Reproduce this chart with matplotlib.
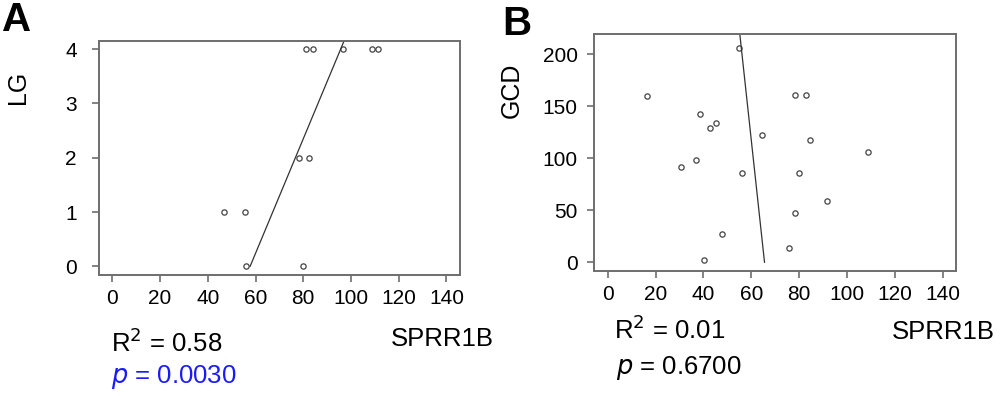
import matplotlib.pyplot as plt
import numpy as np

plt.rcParams['font.family'] = ['Liberation Sans', 'DejaVu Sans']

# Panel A: SPRR1B vs LG
sprr_a = [46.8, 55.6, 56.0, 79.8, 78.2, 82.6, 81.3, 84.2, 96.8, 109.0, 111.3]
lg = [1, 1, 0, 0, 2, 2, 4, 4, 4, 4, 4]

# Panel B: SPRR1B vs GCD
sprr_b = [54.7, 16.4, 38.5, 42.7, 45.2, 64.3, 78.2, 82.7, 84.5, 108.8,
          36.9, 30.5, 56.2, 80.0, 91.6, 78.2, 47.9, 75.9, 40.2]
gcd = [205.8, 159.9, 142.6, 129.1, 133.9, 122.7, 161.2, 161.2, 117.9, 106.1,
       98.4, 91.3, 86.2, 86.2, 58.6, 47.7, 26.9, 13.5, 2.5]

x_ticks = [0, 20, 40, 60, 80, 100, 120, 140]
lg_ticks = [0, 1, 2, 3, 4]
gcd_ticks = [0, 50, 100, 150, 200]

stats_a = ("0.58", "0.0030")
stats_b = ("0.01", "0.6700")

W, H = 1000, 396
fig = plt.figure(figsize=(10, 3.96), dpi=100)

spine_col = '#6e6e6e'
pt_col = '#444444'


def fx(px):
    return px / W


def fy(py):
    return 1 - py / H


def panel(rect, xs, ys, yticks, ylim, ylab_pad):
    ax = fig.add_axes(rect)
    ax.plot(xs, ys, 'o', mfc='none', mec=pt_col, ms=3.8, mew=0.9)
    # regression of x on y, drawn from y = 0 upward
    b, a = np.polyfit(ys, xs, 1)
    yy = np.array([0, ylim[1] * 1.2])
    ax.plot(a + b * yy, yy, color='#333333', lw=0.9)
    ax.set_xlim(-5.6, 145.7)
    ax.set_ylim(*ylim)
    ax.set_xticks(x_ticks)
    ax.set_yticks(yticks)
    for s in ax.spines.values():
        s.set_color(spine_col)
        s.set_linewidth(1.4)
    ax.tick_params(colors=spine_col, labelcolor='black', length=5, width=1.2,
                   labelsize=15)
    ax.tick_params(axis='x', pad=5)
    ax.tick_params(axis='y', pad=ylab_pad)
    return ax


ax_a = panel([0.099, 0.3056, 0.361, 0.592], sprr_a, lg, lg_ticks, (-0.16, 4.16), 11)
ax_b = panel([0.5943, 0.3164, 0.362, 0.597], sprr_b, gcd, gcd_ticks, (-8.1, 219.2), 7)

# panel letters
fig.text(fx(2), fy(20), 'A', fontsize=29, fontweight='bold', va='center', ha='left')
fig.text(fx(502), fy(24), 'B', fontsize=29, fontweight='bold', va='center', ha='left')

# y labels
fig.text(fx(18), fy(87), 'LG', fontsize=18, rotation=90, va='center', ha='center')
fig.text(fx(512), fy(90), 'GCD', fontsize=18, rotation=90, va='center', ha='center')

# x labels
fig.text(fx(494), fy(339), 'SPRR1B', fontsize=18.5, va='center', ha='right')
fig.text(fx(995), fy(332), 'SPRR1B', fontsize=18.5, va='center', ha='right')

# stats
fig.text(fx(111), fy(343), r'R$^{2}$ = ' + stats_a[0], fontsize=18.5, va='center', ha='left')
fig.text(fx(111), fy(377), r'$\it{p}$ = ' + stats_a[1], fontsize=18.5, va='center',
         ha='left', color='#1a1aff')
fig.text(fx(614), fy(330), r'R$^{2}$ = ' + stats_b[0], fontsize=18.5, va='center', ha='left')
fig.text(fx(616), fy(368), r'$\it{p}$ = ' + stats_b[1], fontsize=18.5, va='center', ha='left')

fig.savefig('out.png', dpi=100)
